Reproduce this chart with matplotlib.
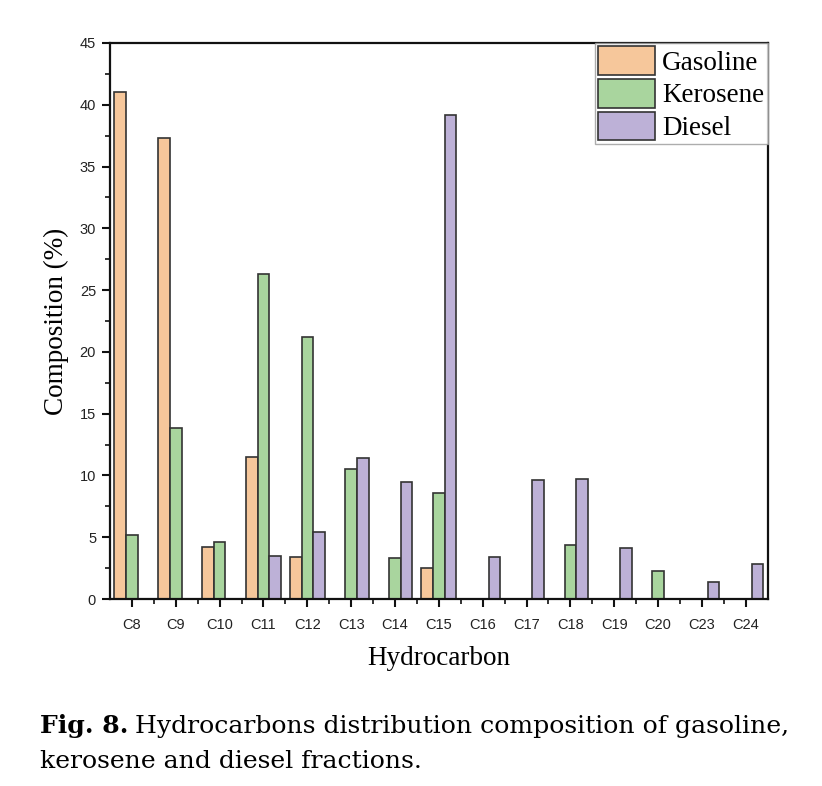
import numpy as np
import matplotlib
matplotlib.use("Agg")
import matplotlib.pyplot as plt
from matplotlib.ticker import MultipleLocator, FixedLocator

# carbon number categories
categories = ["C8", "C9", "C10", "C11", "C12", "C13", "C14", "C15",
              "C16", "C17", "C18", "C19", "C20", "C23", "C24"]

# composition (%)
gasoline = [41.0, 37.3, 4.2, 11.5, 3.4, 0, 0, 2.5, 0, 0, 0, 0, 0, 0, 0]
kerosene = [5.2, 13.8, 4.6, 26.3, 21.2, 10.5, 3.3, 8.6, 0, 0, 4.4, 0, 2.3, 0, 0]
diesel = [0, 0, 0, 3.5, 5.4, 11.4, 9.5, 39.2, 3.4, 9.6, 9.7, 4.1, 0, 1.4, 2.8]

series_names = ["Gasoline", "Kerosene", "Diesel"]
colors = ["#F6C79B", "#A9D59E", "#BDB1D7"]

fig = plt.figure(figsize=(8.22, 7.86), dpi=100)
ax = fig.add_axes([0.1338, 0.2379, 0.8002, 0.7074])

x = np.arange(len(categories))
w = 0.265
for i, (vals, name, col) in enumerate(zip([gasoline, kerosene, diesel], series_names, colors)):
    ax.bar(x + (i - 1) * w, vals, width=w, color=col, edgecolor="#333333",
           linewidth=1.2, label=name)

ax.set_xlim(-0.5, len(categories) - 0.5)
ax.set_ylim(0, 45)

ax.set_xticks(x)
ax.set_xticklabels(categories, fontfamily="Liberation Sans", fontsize=10.5, color="#222222")
ax.xaxis.set_minor_locator(FixedLocator(x[:-1] + 0.5))
ax.yaxis.set_major_locator(MultipleLocator(5))
ax.yaxis.set_minor_locator(MultipleLocator(2.5))
for lab in ax.get_yticklabels():
    lab.set_fontfamily("Liberation Sans")
    lab.set_fontsize(10.5)
    lab.set_color("#222222")

ax.tick_params(axis="both", which="major", direction="out", length=6, width=1.5,
               color="#111111", pad=4)
ax.tick_params(axis="both", which="minor", direction="out", length=3.5, width=1.2,
               color="#111111")
ax.tick_params(axis="x", which="major", pad=8)
for sp in ax.spines.values():
    sp.set_linewidth(1.6)
    sp.set_color("#111111")

ax.set_ylabel("Composition (%)", fontfamily="Liberation Serif", fontsize=19.5, labelpad=8)
ax.set_xlabel("Hydrocarbon", fontfamily="Liberation Serif", fontsize=19.5, labelpad=10)

leg = ax.legend(loc="upper right", prop={"family": "Liberation Serif", "size": 19.5},
                frameon=True, fancybox=False, borderaxespad=0, borderpad=0.12,
                handlelength=2.1, handleheight=1.25, handletextpad=0.26,
                labelspacing=0.12, edgecolor="#999999")
leg.get_frame().set_linewidth(1.0)

# caption, bold "Fig. 8." followed by regular text; scale the size so line 1
# spans about the same width as in the source
cap_font = "DejaVu Serif"
y1 = (786 - 733) / 786
y2 = (786 - 768) / 786
x0 = 40 / 822
target_w = 750
size = 16.0
for _ in range(3):
    t1 = fig.text(x0, y1, "Fig. 8.", fontfamily=cap_font, fontweight="bold",
                  fontsize=size, va="baseline", ha="left")
    fig.canvas.draw()
    bb = t1.get_window_extent()
    x_next = (bb.x1 + size * 0.35) / fig.bbox.width
    t2 = fig.text(x_next, y1, "Hydrocarbons distribution composition of gasoline,",
                  fontfamily=cap_font, fontsize=size, va="baseline", ha="left")
    fig.canvas.draw()
    width = t2.get_window_extent().x1 - bb.x0
    t1.remove()
    t2.remove()
    size = size * target_w / width

t1 = fig.text(x0, y1, "Fig. 8.", fontfamily=cap_font, fontweight="bold",
              fontsize=size, va="baseline", ha="left")
fig.canvas.draw()
bb = t1.get_window_extent()
fig.text((bb.x1 + size * 0.35) / fig.bbox.width, y1,
         "Hydrocarbons distribution composition of gasoline,",
         fontfamily=cap_font, fontsize=size, va="baseline", ha="left")
fig.text(x0, y2, "kerosene and diesel fractions.", fontfamily=cap_font,
         fontsize=size, va="baseline", ha="left")

fig.savefig("out.png", dpi=100)
